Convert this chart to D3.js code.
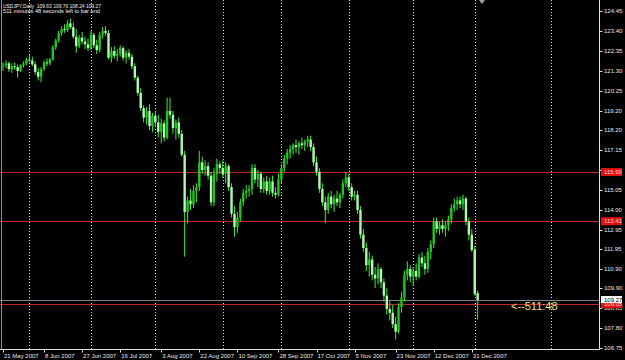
<!DOCTYPE html>
<html><head><meta charset="utf-8">
<script src="https://cdn.jsdelivr.net/npm/d3@7"></script>
<style>html,body{margin:0;padding:0;background:#000;}svg{display:block;}</style>
</head><body>
<svg id="chart" width="625" height="360"></svg>
<script>
const symbolTitle = "USDJPY,Daily  109.63 109.76 108.24 109.27";
const timerText = "511 minutes 48 seconds left to bar end";
const opens = [121.55,121.60,121.70,121.40,121.55,121.50,121.30,121.60,121.70,121.90,121.85,121.65,121.25,121.00,121.40,121.75,121.70,121.90,122.55,122.90,123.30,123.50,123.45,123.80,123.60,123.10,122.60,123.05,122.85,122.70,122.50,123.20,122.65,122.40,123.20,123.40,123.30,122.00,122.35,122.10,122.20,122.50,122.00,122.25,122.05,121.55,120.95,120.15,119.35,118.85,119.20,118.40,118.95,118.60,118.10,118.55,117.80,119.20,119.00,118.30,118.60,118.00,116.90,113.90,114.50,114.30,115.00,115.20,116.50,116.10,116.30,115.80,114.40,115.90,116.40,116.20,115.90,116.30,115.20,113.80,113.10,113.60,114.40,114.90,115.00,115.10,116.20,115.60,115.90,115.10,115.50,115.00,115.50,114.90,114.80,115.60,116.20,116.70,117.00,117.20,117.40,117.30,117.50,117.40,117.60,117.70,117.30,116.50,116.00,115.10,114.40,114.00,114.70,114.30,114.60,114.40,114.80,115.40,115.70,115.20,114.70,114.80,114.00,112.70,112.00,111.10,111.40,110.60,110.40,110.90,110.20,109.50,108.80,108.60,108.00,107.60,108.90,109.40,110.60,110.90,110.50,110.80,110.50,111.50,111.20,110.90,111.80,112.20,113.40,113.00,113.20,113.00,113.20,113.50,114.10,114.30,114.50,114.30,114.60,113.40,112.70,111.90,109.63];
const highs = [121.75,121.85,121.80,121.70,121.75,121.65,121.65,121.80,122.00,122.15,122.05,121.80,121.45,121.50,121.85,121.95,122.00,122.65,123.00,123.40,123.65,123.75,123.95,124.05,123.85,123.50,123.20,123.35,123.10,123.00,123.40,123.30,122.95,123.35,123.60,123.65,123.45,122.55,122.60,122.45,122.65,122.60,122.40,122.45,122.20,121.70,121.05,120.40,119.50,119.40,119.55,119.10,119.20,119.00,118.80,118.70,119.90,119.90,119.20,118.75,118.85,118.20,117.10,114.70,115.10,115.30,115.40,117.10,116.80,116.60,116.50,116.00,116.20,116.70,116.55,116.60,116.50,116.40,115.40,114.20,113.90,114.60,115.10,115.30,115.30,116.40,116.40,116.10,116.00,115.70,115.80,115.70,115.80,115.20,115.90,116.40,116.90,117.20,117.40,117.50,117.70,117.60,117.80,117.70,117.90,117.90,117.50,116.80,116.20,115.40,114.70,114.90,115.00,114.80,115.00,114.90,115.60,116.00,115.90,115.40,115.00,115.00,114.20,113.00,112.30,111.80,111.60,111.00,111.20,111.00,110.40,109.90,109.20,109.00,108.40,109.10,109.70,110.80,111.30,111.10,111.00,111.20,111.70,111.80,111.60,112.00,112.40,113.60,113.60,113.40,113.50,113.40,113.70,114.30,114.60,114.70,114.70,114.80,114.70,113.60,113.00,112.10,109.76];
const lows = [121.30,121.45,121.25,121.20,121.35,120.95,121.25,121.50,121.60,121.75,121.55,121.10,120.80,120.70,121.30,121.55,121.60,121.85,122.40,122.80,123.15,123.30,123.35,123.50,123.00,122.25,122.50,122.70,122.45,122.35,122.40,122.50,122.20,122.30,123.00,123.15,121.90,121.75,121.95,121.80,122.05,121.85,121.70,121.90,121.40,120.80,120.00,119.20,118.60,118.50,118.20,118.10,118.40,117.80,117.50,117.60,117.70,118.80,118.00,117.70,117.80,116.80,111.55,113.30,114.00,114.10,114.40,115.00,115.90,115.80,115.60,114.20,114.20,115.50,115.90,115.70,115.40,115.00,113.60,112.60,112.80,113.40,114.20,114.60,114.70,114.80,115.40,115.20,114.90,114.90,114.80,114.80,114.70,114.60,114.70,115.40,116.00,116.40,116.70,116.90,117.00,116.90,117.20,117.10,117.30,117.10,116.30,115.80,114.90,114.20,113.30,113.80,114.10,113.90,114.20,114.10,114.60,115.20,115.00,114.50,114.50,113.80,112.50,111.80,110.80,110.50,110.30,109.90,110.10,109.90,109.20,108.50,108.20,107.80,107.20,107.50,108.60,109.20,110.30,110.20,110.00,110.30,110.40,111.00,110.60,110.70,111.40,112.00,112.80,112.70,112.80,112.60,112.90,113.30,113.90,114.00,114.10,114.00,113.20,112.40,111.80,109.50,108.24];
const closes = [121.60,121.70,121.40,121.55,121.50,121.30,121.60,121.70,121.90,121.85,121.65,121.25,121.00,121.40,121.75,121.70,121.90,122.55,122.90,123.30,123.50,123.45,123.80,123.60,123.10,122.60,123.05,122.85,122.70,122.50,123.20,122.65,122.40,123.20,123.40,123.30,122.00,122.35,122.10,122.20,122.50,122.00,122.25,122.05,121.55,120.95,120.15,119.35,118.85,119.20,118.40,118.95,118.60,118.10,118.55,117.80,119.20,119.00,118.30,118.60,118.00,116.90,113.90,114.50,114.30,115.00,115.20,116.50,116.10,116.30,115.80,114.40,115.90,116.40,116.20,115.90,116.30,115.20,113.80,113.10,113.60,114.40,114.90,115.00,115.10,116.20,115.60,115.90,115.10,115.50,115.00,115.50,114.90,114.80,115.60,116.20,116.70,117.00,117.20,117.40,117.30,117.50,117.40,117.60,117.70,117.30,116.50,116.00,115.10,114.40,114.00,114.70,114.30,114.60,114.40,114.80,115.40,115.70,115.20,114.70,114.80,114.00,112.70,112.00,111.10,111.40,110.60,110.40,110.90,110.20,109.50,108.80,108.60,108.00,107.60,108.90,109.40,110.60,110.90,110.50,110.80,110.50,111.50,111.20,110.90,111.80,112.20,113.40,113.00,113.20,113.00,113.20,113.50,114.10,114.30,114.50,114.30,114.60,113.40,112.70,111.90,109.60,109.27];
const priceTicks = ["124.45","123.40","122.35","121.30","120.25","119.20","118.20","117.15","116.10","115.05","114.00","112.95","111.95","110.90","109.90","108.85","107.80","106.75"];
const dateLabels = ["21 May 2007","8 Jun 2007","27 Jun 2007","16 Jul 2007","3 Aug 2007","22 Aug 2007","10 Sep 2007","28 Sep 2007","17 Oct 2007","5 Nov 2007","23 Nov 2007","12 Dec 2007","31 Dec 2007"];
const dateLabelBars = [0,14,27,40,54,67,80,94,107,120,134,147,160];
const monthGridBars = [9,30,52,75,95,118,140,161,187];
const redLevels = [115.99,113.41,109.05];
const bidLevel = 109.27;
const countdownText = "<--511:48";

const svg = d3.select("#chart");
const W = 625, H = 360, plotRight = 599.5, plotBottom = 349.5;
svg.append("rect").attr("width",W).attr("height",H).attr("fill","#000");

const x = d3.scaleLinear().domain([0,160]).range([3,471.8]);
const y = d3.scaleLinear().domain([106.75,124.45]).range([348,11]);
const font = "Liberation Sans, Arial, sans-serif";

// vertical dotted grid
svg.append("g").selectAll("line").data(monthGridBars).join("line")
  .attr("x1",d=>Math.round(x(d))+0.5).attr("x2",d=>Math.round(x(d))+0.5)
  .attr("y1",0).attr("y2",plotBottom)
  .attr("stroke","#e0e0e0").attr("stroke-width",1).attr("stroke-dasharray","1,2");

// horizontal level lines
svg.append("g").selectAll("line").data(redLevels).join("line")
  .attr("x1",0).attr("x2",plotRight).attr("y1",d=>Math.round(y(d))+0.5).attr("y2",d=>Math.round(y(d))+0.5)
  .attr("stroke","#c02828").attr("stroke-width",1);
svg.append("line").attr("x1",0).attr("x2",plotRight)
  .attr("y1",Math.round(y(bidLevel))+0.5).attr("y2",Math.round(y(bidLevel))+0.5)
  .attr("stroke","#7a8494").attr("stroke-width",1);

// candles
const idx = d3.range(opens.length);
const g = svg.append("g");
g.selectAll("line.wick").data(idx).join("line").attr("class","wick")
  .attr("x1",i=>x(i)).attr("x2",i=>x(i))
  .attr("y1",i=>y(highs[i])).attr("y2",i=>y(lows[i]))
  .attr("stroke","#38f038").attr("stroke-width",1);
g.selectAll("rect.body").data(idx).join("rect").attr("class","body")
  .attr("x",i=>x(i)-1.2).attr("width",2.4)
  .attr("y",i=>y(Math.max(opens[i],closes[i])))
  .attr("height",i=>Math.max(0.8,Math.abs(y(opens[i])-y(closes[i]))))
  .attr("fill",i=>closes[i]>=opens[i]?"#22c422":"#b0f8b0");

// axes lines
svg.append("line").attr("x1",plotRight).attr("x2",plotRight).attr("y1",0).attr("y2",plotBottom).attr("stroke","#e0e0e0");
svg.append("line").attr("x1",0).attr("x2",plotRight).attr("y1",plotBottom).attr("y2",plotBottom).attr("stroke","#e0e0e0");
svg.append("line").attr("x1",1.5).attr("x2",1.5).attr("y1",0).attr("y2",plotBottom).attr("stroke","#909090");

// price axis
const pa = svg.append("g");
pa.selectAll("line").data(priceTicks).join("line")
  .attr("x1",plotRight).attr("x2",plotRight+3)
  .attr("y1",d=>Math.round(y(+d))+0.5).attr("y2",d=>Math.round(y(+d))+0.5).attr("stroke","#e0e0e0");
pa.selectAll("text").data(priceTicks).join("text")
  .attr("x",604).attr("y",d=>y(+d)+2.2).text(d=>d)
  .attr("fill","#e8e8e8").attr("font-family",font).attr("font-size",6);

// level labels
const lab = svg.append("g");
redLevels.forEach(v=>{
  lab.append("rect").attr("x",601).attr("y",y(v)-4).attr("width",21).attr("height",8).attr("fill","#e01010");
  lab.append("text").attr("x",604).attr("y",y(v)+2.2).text(v.toFixed(2)).attr("fill","#ffd0d0")
    .attr("font-family",font).attr("font-size",6);
});
lab.append("rect").attr("x",601).attr("y",y(bidLevel)-4).attr("width",21).attr("height",7).attr("fill","#ffffff");
lab.append("text").attr("x",604).attr("y",y(bidLevel)+2).text(bidLevel.toFixed(2)).attr("fill","#000")
  .attr("font-family",font).attr("font-size",6);

// date axis
const da = svg.append("g");
da.selectAll("line").data(dateLabelBars).join("line")
  .attr("x1",d=>Math.round(x(d))+0.5).attr("x2",d=>Math.round(x(d))+0.5)
  .attr("y1",plotBottom).attr("y2",plotBottom+3).attr("stroke","#e0e0e0");
da.selectAll("text").data(dateLabels).join("text")
  .attr("x",(d,i)=>x(dateLabelBars[i])+1).attr("y",357.5).text(d=>d)
  .attr("fill","#e8e8e8").attr("font-family",font).attr("font-size",6);

// header
svg.append("text").attr("x",3).attr("y",7.5).text(symbolTitle).attr("fill","#f0f0f0")
  .attr("font-family",font).attr("font-size",6).style("white-space","pre")
  .attr("textLength",98).attr("lengthAdjust","spacingAndGlyphs");
svg.append("text").attr("x",3).attr("y",13).text(timerText).attr("fill","#f0f0f0")
  .attr("font-family",font).attr("font-size",6)
  .attr("textLength",97).attr("lengthAdjust","spacingAndGlyphs");

// countdown
svg.append("text").attr("x",511).attr("y",310).text(countdownText).attr("fill","#f0e080")
  .attr("font-family",font).attr("font-size",11);

// shift marker
svg.append("path").attr("d",d3.line()([[479,0],[485,0],[482,4]])+"Z").attr("fill","#a0a0a0");
</script>
</body></html>
